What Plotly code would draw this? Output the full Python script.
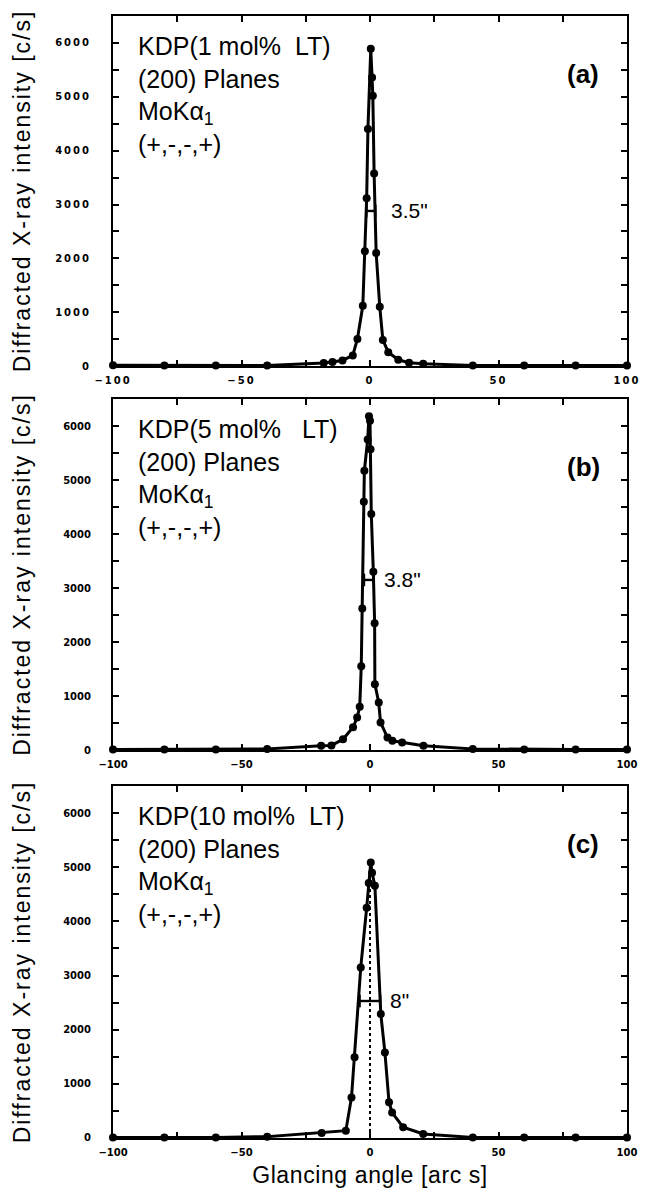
import plotly.graph_objects as go
from plotly.subplots import make_subplots

# ---------------- data ----------------
angle_a = [-100, -80, -60, -40, -18, -14.6, -10.7, -6.7, -4.9, -2.8, -2.0, -1.3, -0.8,
           0.3, 0.8, 1.1, 1.6, 2.4, 3.8, 5.0, 7.1, 11, 15.2, 20.7, 40, 60, 80, 100]
intensity_a = [15, 10, 10, 10, 55, 74, 104, 197, 504, 1118, 2131, 3114, 4404,
               5890, 5356, 5018, 3575, 2100, 1100, 485, 258, 117, 61, 43, 12, 10, 10, 10]

angle_b = [-100, -80, -60, -40, -19, -15, -10.5, -6.6, -5.0, -4.0, -3.4, -3.0, -2.4, -2.2,
           -0.9, -0.4, 0.0, 0.2, 0.5, 1.3, 1.8, 1.9, 3.4, 4.1, 6.8, 8.7, 12.5, 20.8, 40, 60, 80, 100]
intensity_b = [10, 10, 10, 20, 80, 85, 200, 420, 600, 800, 1550, 2620, 4600, 5170,
               5750, 6180, 6100, 5570, 4370, 3300, 2350, 1220, 880, 510, 230, 170, 140, 80, 20, 10, 10, 10]

angle_c = [-100, -80, -60, -40, -18.8, -9.4, -7.2, -6.0, -3.6, -1.3, -0.5, 0.3, 0.8,
           1.9, 4.2, 5.8, 7.4, 8.6, 12.9, 20.7, 40, 60, 80, 100]
intensity_c = [10, 10, 10, 25, 92, 135, 750, 1490, 3150, 4250, 4710, 5090, 4900,
               4660, 2290, 1580, 660, 470, 200, 74, 10, 10, 10, 10]

# FWHM bars: [left angle, right angle], height
fwhm_a_x, fwhm_a_y = [-1.4, 2.1], 2880
fwhm_b_x, fwhm_b_y = [-2.3, 1.5], 3150
fwhm_c_x, fwhm_c_y = [-4.0, 4.0], 2530
fwhm_labels = ['3.5"', '3.8"', '8"']
fwhm_label_x = [7.2, 4.8, 7.0]

peak_line_c_x = [0, 0]
peak_line_c_y = [0, 5000]

panel_texts = [
    "KDP(1 mol%  LT)<br>(200) Planes<br>MoKα<sub>1</sub><br>(+,-,-,+)",
    "KDP(5 mol%   LT)<br>(200) Planes<br>MoKα<sub>1</sub><br>(+,-,-,+)",
    "KDP(10 mol%  LT)<br>(200) Planes<br>MoKα<sub>1</sub><br>(+,-,-,+)",
]
panel_tags = ["(a)", "(b)", "(c)"]

x_ticks = [-100, -50, 0, 50, 100]
y_ticks = [0, 1000, 2000, 3000, 4000, 5000, 6000]

FONT = "Liberation Sans, Arial, sans-serif"

fig = make_subplots(rows=3, cols=1)

series = [(angle_a, intensity_a), (angle_b, intensity_b), (angle_c, intensity_c)]
bars = [(fwhm_a_x, fwhm_a_y), (fwhm_b_x, fwhm_b_y), (fwhm_c_x, fwhm_c_y)]

for i, (xs, ys) in enumerate(series):
    r = i + 1
    fig.add_trace(go.Scatter(x=xs, y=ys, mode="lines+markers",
                             line=dict(color="black", width=3),
                             marker=dict(color="black", size=8),
                             cliponaxis=False, showlegend=False), row=r, col=1)
    bx, by = bars[i]
    fig.add_trace(go.Scatter(x=bx, y=[by, by], mode="lines+markers",
                             line=dict(color="black", width=2.4),
                             marker=dict(color="black", symbol="line-ns-open", size=9,
                                         line=dict(width=2.2, color="black")),
                             showlegend=False), row=r, col=1)

fig.add_trace(go.Scatter(x=peak_line_c_x, y=peak_line_c_y, mode="lines",
                         line=dict(color="black", width=2, dash="dot"),
                         showlegend=False), row=3, col=1)

domains = [[0.688, 1.0], [0.3458, 0.6586], [0.0, 0.3137]]
tag_y = [0.835, 0.805, 0.835]

for i in range(3):
    r = i + 1
    xa = "xaxis" if r == 1 else f"xaxis{r}"
    ya = "yaxis" if r == 1 else f"yaxis{r}"
    fig.layout[xa].update(
        domain=[0, 1], range=[-100, 100], tickvals=x_ticks,
        ticks="inside", ticklen=6, tickwidth=1.6, tickcolor="black",
        minor=dict(dtick=25, tick0=0, ticks="inside", ticklen=6, tickwidth=1.6, tickcolor="black"),
        showline=True, linewidth=2, linecolor="black", mirror="ticks",
        showgrid=False, zeroline=False, ticklabelstandoff=4,
        tickfont=dict(family="DejaVu Sans", size=10, color="black", weight="bold"),
    )
    fig.layout[ya].update(
        domain=domains[i], range=[0, 6500], tickvals=y_ticks,
        ticks="inside", ticklen=6, tickwidth=1.6, tickcolor="black",
        minor=dict(dtick=500, tick0=0, ticks="inside", ticklen=6, tickwidth=1.6, tickcolor="black"),
        showline=True, linewidth=2, linecolor="black", mirror="ticks",
        showgrid=False, zeroline=False, ticklabelstandoff=18,
        tickfont=dict(family="DejaVu Sans", size=10, color="black", weight="bold"),
        title=dict(text="Diffracted X-ray intensity [c/s]", standoff=26,
                   font=dict(family=FONT, size=23, color="black")),
    )
    xd = "x domain" if r == 1 else f"x{r} domain"
    yd = "y domain" if r == 1 else f"y{r} domain"
    xr = "x" if r == 1 else f"x{r}"
    yr = "y" if r == 1 else f"y{r}"
    fig.add_annotation(text=panel_texts[i], xref=xd, yref=yd, x=0.045, y=0.96,
                       xanchor="left", yanchor="top", align="left", showarrow=False,
                       font=dict(family=FONT, size=25, color="black"))
    fig.add_annotation(text=panel_tags[i], xref=xd, yref=yd, x=0.915, y=tag_y[i],
                       xanchor="center", yanchor="middle", showarrow=False,
                       font=dict(family=FONT, size=26, color="black", weight="bold"))
    fig.add_annotation(text=fwhm_labels[i], xref=xr, yref=yr, x=fwhm_label_x[i],
                       y=bars[i][1], xanchor="left", yanchor="middle", showarrow=False,
                       font=dict(family=FONT, size=21, color="black"))

fig.layout.xaxis3.title = dict(text="Glancing angle [arc s]", standoff=10,
                               font=dict(family=FONT, size=23, color="black"))

fig.update_layout(width=649, height=1199,
                  margin=dict(l=113, r=14, t=16, b=61),
                  plot_bgcolor="white", paper_bgcolor="white",
                  showlegend=False)

css = ("document.body.style.margin='0';"
       "var s=document.createElement('style');"
       "s.textContent='.xtick text,.ytick text{letter-spacing:2px}"
       " .g-ytitle text,.g-y2title text,.g-y3title text{letter-spacing:2px}"
       " .g-x3title text{letter-spacing:0.6px}';"
       "document.head.appendChild(s);")

fig.write_html("out.html", post_script=css, config={"displayModeBar": False})
